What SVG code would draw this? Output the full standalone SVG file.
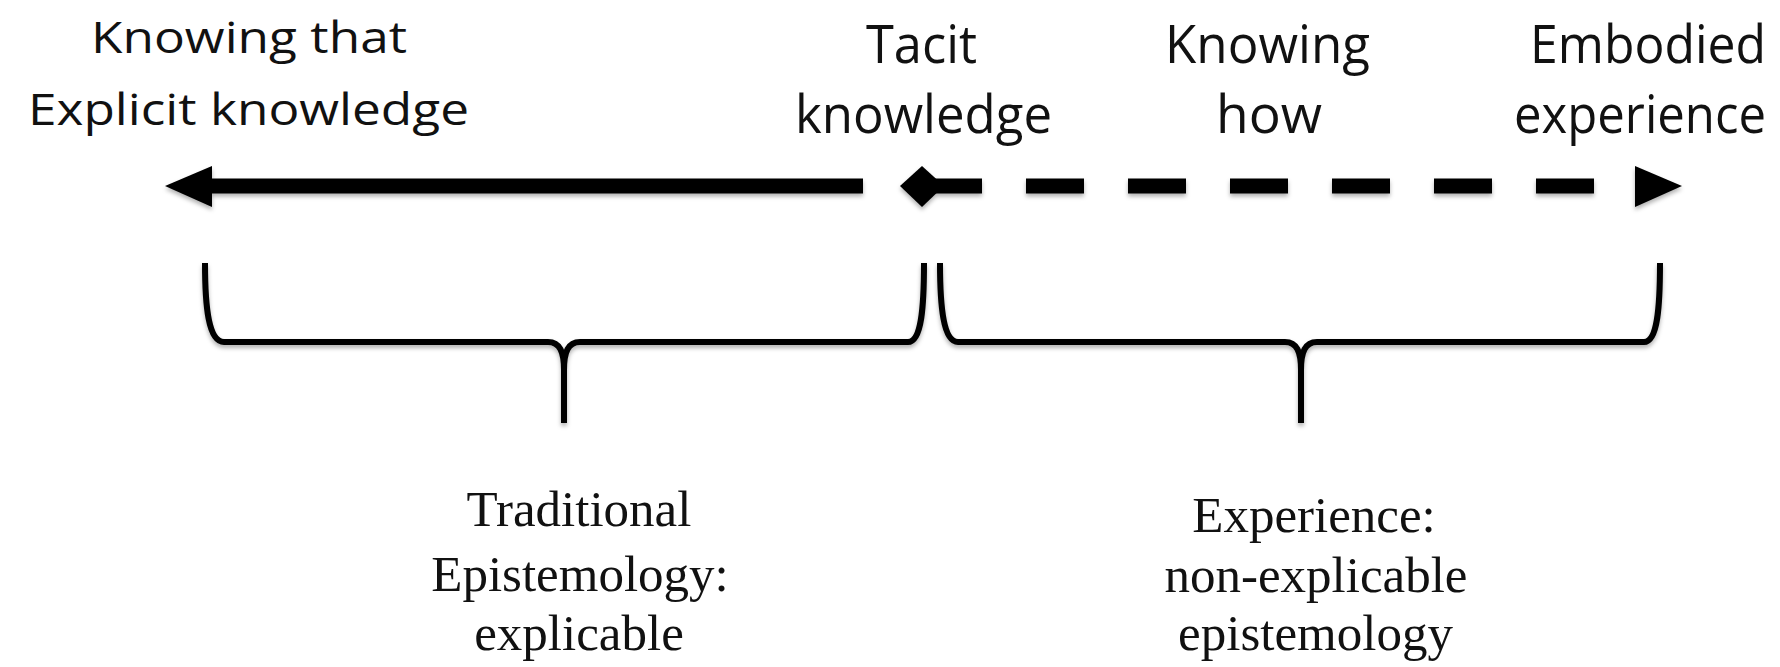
<svg xmlns="http://www.w3.org/2000/svg" width="1780" height="667" viewBox="0 0 1780 667">
<style>
.top{font-family:"Open Sans","Noto Sans","Liberation Sans",sans-serif;fill:#111;text-anchor:middle}
.l{font-size:44px}
.r{font-size:53.5px}
.end{text-anchor:end}
.bot{font-family:"Liberation Serif","Times New Roman",serif;font-size:51px;fill:#111;text-anchor:middle}
.br{fill:none;stroke:#000;stroke-width:6;stroke-linejoin:round}
</style>
<defs>
<filter id="sh" x="-5%" y="-30%" width="110%" height="180%">
<feDropShadow dx="0" dy="3" stdDeviation="2" flood-color="#000" flood-opacity="0.3"/>
</filter>
</defs>
<rect width="1780" height="667" fill="#fff"/>

<g id="connectors" filter="url(#sh)">
<path d="M208,186 H863" stroke="#000" stroke-width="15"/>
<polygon points="165,186 212,166 212,207" fill="#000"/>
<polygon points="900,186 922,166 944,186 922,207" fill="#000"/>
<path d="M924,186 H1596" stroke="#000" stroke-width="15" stroke-dasharray="58 44"/>
<polygon points="1635,166 1682,186 1635,207" fill="#000"/>
</g>

<g id="knowing-that">
<text class="top l" x="249" y="53" textLength="316" lengthAdjust="spacingAndGlyphs">Knowing that</text>
<text class="top l" x="248.5" y="125" textLength="441" lengthAdjust="spacingAndGlyphs">Explicit knowledge</text>
</g>
<g id="tacit">
<text class="top r" x="921.5" y="63" textLength="111" lengthAdjust="spacingAndGlyphs">Tacit</text>
<text class="top r" x="923.5" y="133" textLength="257" lengthAdjust="spacingAndGlyphs">knowledge</text>
</g>
<g id="knowing-how">
<text class="top r" x="1267.5" y="63" textLength="205" lengthAdjust="spacingAndGlyphs">Knowing</text>
<text class="top r" x="1269" y="133" textLength="106" lengthAdjust="spacingAndGlyphs">how</text>
</g>
<g id="embodied">
<text class="top r end" x="1766" y="63" textLength="236" lengthAdjust="spacingAndGlyphs">Embodied</text>
<text class="top r end" x="1766" y="133" textLength="252" lengthAdjust="spacingAndGlyphs">experience</text>
</g>

<g id="bracket-left" filter="url(#sh)">
<path class="br" d="M205,263 C205,305 208,342 224,342 H548 C560,342 564,352 564,370 V423 M564,370 C564,352 568,342 580,342 H908 C922,342 924,305 924,263"/>
</g>
<g id="bracket-right" filter="url(#sh)">
<path class="br" d="M940,263 C940,305 943,342 958,342 H1285 C1297,342 1301,352 1301,370 V423 M1301,370 C1301,352 1305,342 1317,342 H1644 C1658,342 1660,305 1660,263"/>
</g>

<g id="traditional">
<text class="bot" x="579" y="526">Traditional</text>
<text class="bot" x="580" y="591">Epistemology:</text>
<text class="bot" x="579" y="650">explicable</text>
</g>
<g id="experience">
<text class="bot" x="1314" y="532">Experience:</text>
<text class="bot" x="1316" y="592">non-explicable</text>
<text class="bot" x="1315.5" y="650">epistemology</text>
</g>
</svg>
